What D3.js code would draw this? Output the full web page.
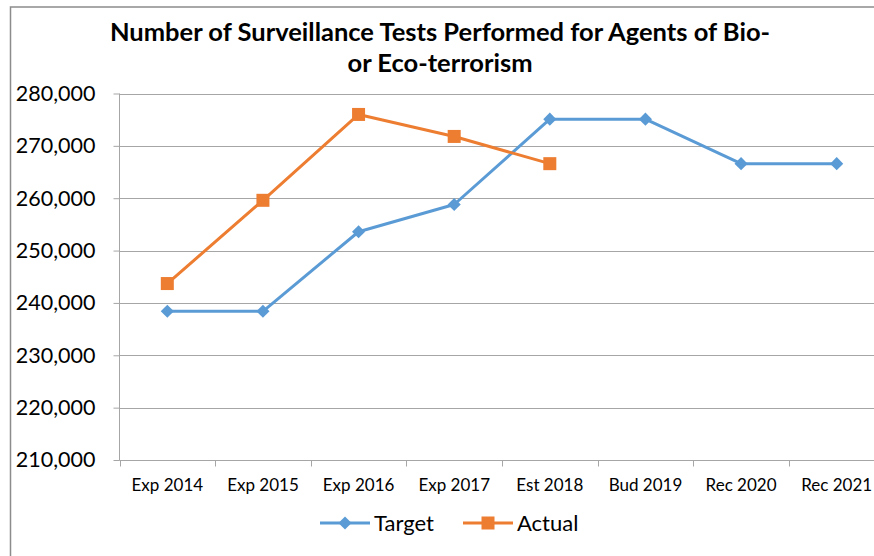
<!DOCTYPE html>
<html>
<head>
<meta charset="utf-8">
<script src="https://cdn.jsdelivr.net/npm/d3@7"></script>
<style>
  body { margin: 0; background: #fff; }
  svg { display: block; font-family: Lato, "Open Sans", sans-serif; }
</style>
</head>
<body>
<div class="chart"></div>
<script>
var categories = ["Exp 2014", "Exp 2015", "Exp 2016", "Exp 2017", "Est 2018", "Bud 2019", "Rec 2020", "Rec 2021"];
var targetValues = [238400, 238400, 253600, 258800, 275100, 275100, 266600, 266600];
var actualValues = [243700, 259600, 276000, 271800, 266600];
var yTicks = [210000, 220000, 230000, 240000, 250000, 260000, 270000, 280000];
var titleLines = ["Number of Surveillance Tests Performed for Agents of Bio-", "or Eco-terrorism"];

var width = 874, height = 556;

var svg = d3.select(".chart")
    .append("svg")
    .attr("width", width)
    .attr("height", height);

// chart frame
svg.append("rect")
    .attr("x", 10.5).attr("y", 7)
    .attr("width", 900).attr("height", 600)
    .attr("fill", "none")
    .attr("stroke", "#8c8c8c")
    .attr("stroke-width", 1.5);

var x = d3.scaleBand().domain(categories).range([119.5, 884.5]);
var y = d3.scaleLinear().domain([210000, 280000]).range([460, 93.5]);

var g = svg.append("g");

// gridlines
g.selectAll(".grid")
    .data(yTicks)
    .enter().append("line")
    .attr("x1", 119.5).attr("x2", 884.5)
    .attr("y1", function(d){ return Math.round(y(d)) + 0.5; })
    .attr("y2", function(d){ return Math.round(y(d)) + 0.5; })
    .attr("stroke", "#a6a6a6")
    .attr("stroke-width", 1);

// y axis
var yAxis = g.append("g")
    .attr("transform", "translate(119.5,0)")
    .call(d3.axisLeft(y).tickValues(yTicks).tickSize(6).tickPadding(18).tickFormat(d3.format(",")));
yAxis.selectAll("line").attr("stroke", "#a6a6a6");
yAxis.select(".domain").attr("stroke", "#a6a6a6").attr("d", "M0,93.5V460");
yAxis.selectAll("text")
    .attr("font-family", "Lato, sans-serif")
    .attr("font-size", "21.5px")
    .attr("fill", "#000");

// x axis
var xAxis = g.append("g")
    .attr("transform", "translate(0,460.5)")
    .call(d3.axisBottom(x).tickSize(0).tickPadding(18));
xAxis.select(".domain").attr("stroke", "#a6a6a6").attr("d", "M119.5,0H884.5");
xAxis.selectAll("text")
    .attr("font-family", "Lato, sans-serif")
    .attr("font-size", "17px")
    .attr("fill", "#000");
xAxis.selectAll(".bound")
    .data(categories.map(function(c){ return x(c); }).concat([884.5]))
    .enter().append("line")
    .attr("x1", function(d){ return Math.round(d) + 0.5; })
    .attr("x2", function(d){ return Math.round(d) + 0.5; })
    .attr("y1", 0).attr("y2", 6)
    .attr("stroke", "#a6a6a6");

var cx = function(d, i){ return x(categories[i]) + x.bandwidth() / 2; };

var line = d3.line()
    .x(function(d, i){ return cx(d, i); })
    .y(function(d){ return y(d); });

// target series
g.append("path")
    .datum(targetValues)
    .attr("fill", "none")
    .attr("stroke", "#5b9bd5")
    .attr("stroke-width", 3)
    .attr("stroke-linejoin", "round")
    .attr("d", line);

g.selectAll(".diamond")
    .data(targetValues)
    .enter().append("path")
    .attr("d", d3.symbol().type(d3.symbolDiamond2).size(110))
    .attr("transform", function(d, i){ return "translate(" + cx(d, i) + "," + y(d) + ")"; })
    .attr("fill", "#5b9bd5");

// actual series
g.append("path")
    .datum(actualValues)
    .attr("fill", "none")
    .attr("stroke", "#ed7d31")
    .attr("stroke-width", 3)
    .attr("stroke-linejoin", "round")
    .attr("d", line);

g.selectAll(".square")
    .data(actualValues)
    .enter().append("rect")
    .attr("x", function(d, i){ return cx(d, i) - 6.5; })
    .attr("y", function(d){ return y(d) - 6.5; })
    .attr("width", 13).attr("height", 13)
    .attr("fill", "#ed7d31");

// title
svg.append("text")
    .attr("x", 440)
    .attr("y", 41)
    .attr("text-anchor", "middle")
    .attr("font-weight", "bold")
    .attr("font-size", "25.5px")
    .attr("fill", "#000")
    .selectAll("tspan")
    .data(titleLines)
    .enter().append("tspan")
    .attr("x", 440)
    .attr("dy", function(d, i){ return i ? 31 : 0; })
    .text(function(d){ return d; });

// legend
var legend = [
  {name: "Target", color: "#5b9bd5", x1: 320, shape: "diamond"},
  {name: "Actual", color: "#ed7d31", x1: 463, shape: "square"}
];
var lg = svg.selectAll(".legend")
    .data(legend)
    .enter().append("g")
    .attr("transform", function(d){ return "translate(" + d.x1 + ",523)"; });
lg.append("line")
    .attr("x1", 0).attr("x2", 50)
    .attr("stroke", function(d){ return d.color; })
    .attr("stroke-width", 3);
lg.append("path")
    .attr("d", function(d){
      return d.shape == "diamond" ? d3.symbol().type(d3.symbolDiamond2).size(110)() : "M-6.5,-6.5h13v13h-13Z";
    })
    .attr("transform", "translate(25,0)")
    .attr("fill", function(d){ return d.color; });
lg.append("text")
    .attr("x", 54)
    .attr("y", 8)
    .attr("font-size", "22px")
    .attr("fill", "#000")
    .text(function(d){ return d.name; });
</script>
</body>
</html>
